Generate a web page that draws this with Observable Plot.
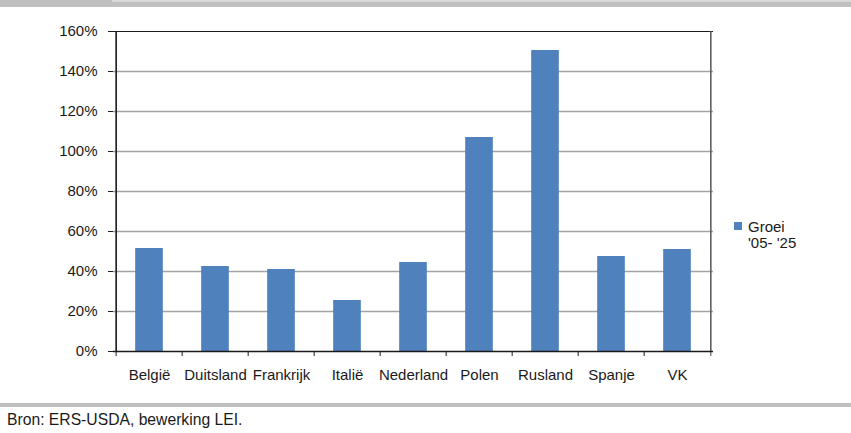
<!DOCTYPE html>
<html>
<head>
<meta charset="utf-8">
<script src="https://cdn.jsdelivr.net/npm/d3@7"></script>
<script src="https://cdn.jsdelivr.net/npm/@observablehq/plot@0.6"></script>
<style>
  html, body { margin: 0; padding: 0; background: #fff; }
  #wrap { position: relative; width: 851px; height: 433px; overflow: hidden;
          font-family: "Liberation Sans", Arial, sans-serif; color: #1a1a1a; }
  #topbar { position: absolute; left: 0; top: 0; width: 851px; height: 7px; background: #bfbfbf; }
  #topbar .light { position: absolute; left: 112px; top: 0; right: 0; height: 2px; background: #d9d9d9; }
  #chart { position: absolute; left: 0; top: 0; }
  #legend { position: absolute; left: 734px; top: 219px; font-size: 15px; line-height: 16px; }
  #legend .sw { position: absolute; left: 0; top: 3px; width: 8px; height: 8px; background: #4f81bd; }
  #legend .txt { margin-left: 14px; }
  #rule { position: absolute; left: 0; top: 403px; width: 851px; height: 4px; background: #bfbfbf; }
  #caption { position: absolute; left: 7px; top: 411px; font-size: 15.7px; }
</style>
</head>
<body>
<div id="wrap">
  <div id="topbar"><div class="light"></div></div>
  <div id="chart"></div>
  <div id="legend"><div class="sw"></div><div class="txt">Groei<br>'05- '25</div></div>
  <div id="rule"></div>
  <div id="caption">Bron: ERS-USDA, bewerking LEI.</div>
</div>
<script>
// Growth per country, 2005-2025 (percent)
const countries = ["België", "Duitsland", "Frankrijk", "Italië", "Nederland", "Polen", "Rusland", "Spanje", "VK"];
const growth = [51.5, 42.5, 41, 25.5, 44.5, 107, 150.5, 47.5, 51];
const yTicks = [0, 20, 40, 60, 80, 100, 120, 140, 160];

const data = countries.map((c, i) => ({country: c, value: growth[i]}));

const W = 851, H = 400;
const mL = 113, mR = 138, mT = 31, mB = 49;
const step = (W - mL - mR) / countries.length;
const barW = 28.3;
const inset = (step - barW) / 2;

const chart = Plot.plot({
  width: W,
  height: H,
  marginLeft: mL,
  marginRight: mR,
  marginTop: mT,
  marginBottom: mB,
  style: {fontFamily: "Liberation Sans, Arial, sans-serif", fontSize: "15px", color: "#1a1a1a", background: "transparent"},
  x: {domain: countries, padding: 0, label: null},
  y: {domain: [0, 160], label: null},
  marks: [
    Plot.ruleY(yTicks.filter(t => t > 0 && t < 160), {stroke: "#a3a3a3", strokeWidth: 1.6}),
    Plot.barY(data, {x: "country", y: "value", fill: "#4f81bd", insetLeft: inset, insetRight: inset}),
    Plot.axisY({ticks: yTicks, tickFormat: d => d + "%", tickSize: 5, tickPadding: 11, stroke: "#1a1a1a", fontSize: 15}),
    Plot.axisX({tickSize: 0, tickPadding: 18, fontSize: 15}),
    // category boundary ticks below the baseline
    Plot.ruleX(countries, {x: d => d, dx: -step / 2, y1: 0, y2: -2.5, stroke: "#1a1a1a"}),
    Plot.ruleX([countries[countries.length - 1]], {x: d => d, dx: step / 2, y1: 0, y2: -2.5, stroke: "#444"}),
    Plot.ruleY([160], {stroke: "#1a1a1a", strokeWidth: 1.2}),
    Plot.ruleX([countries[countries.length - 1]], {x: d => d, dx: step / 2, y1: 0, y2: 160, stroke: "#555", strokeWidth: 1.5}),
    Plot.ruleX([countries[0]], {x: d => d, dx: -step / 2, y1: 0, y2: 160, stroke: "#1a1a1a", strokeWidth: 1.6}),
    Plot.ruleY([0], {stroke: "#1a1a1a", strokeWidth: 1.6})
  ]
});
document.getElementById("chart").appendChild(chart);
</script>
</body>
</html>
